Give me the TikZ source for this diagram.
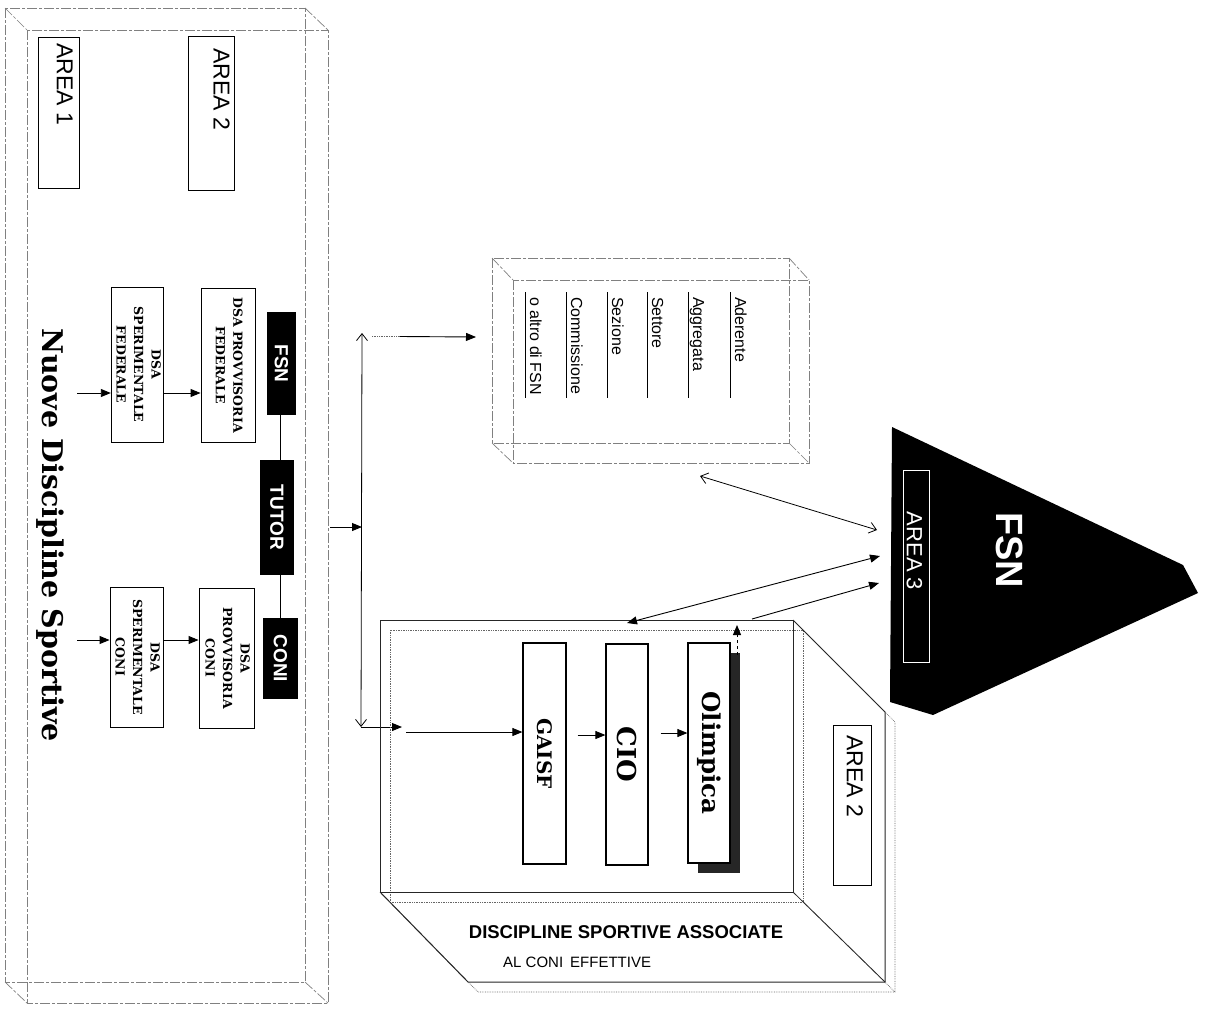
\documentclass[tikz,border=0pt]{standalone}
\usepackage{fontspec}
\usepackage{graphicx}
\setmainfont{DejaVu Serif}
\newfontfamily\sansf{Liberation Sans}
\usetikzlibrary{arrows.meta,calc}
\newcommand{\rstack}[1]{\rotatebox[origin=c]{-90}{\begin{tabular}{@{}c@{}}#1\end{tabular}}}
\newcommand{\rtext}[1]{\rotatebox[origin=c]{-90}{#1}}
\tikzset{
  blk/.style={fill=black, text=white, inner sep=0pt, font=\sansf\bfseries\fontsize{19}{22}\selectfont},
  wbox/.style={draw=black, line width=0.9pt, fill=white, inner sep=0pt},
  dsabox/.style={wbox, font=\bfseries\fontsize{12.5}{17.5}\selectfont},
  bigbox/.style={wbox, line width=1.2pt, font=\bfseries},
  areatxt/.style={inner sep=0pt, font=\sansf\fontsize{23}{26}\selectfont},
  arr/.style={-{Triangle[length=10pt,width=8pt]}, line width=0.9pt},
  darr/.style={{Triangle[length=10pt,width=8pt]}-{Triangle[length=10pt,width=8pt]}, line width=0.9pt},
  oarr/.style={{Straight Barb[length=7pt,width=11pt]}-{Straight Barb[length=7pt,width=11pt]}, line width=0.8pt},
  faint/.style={draw=black!50, line width=0.7pt, dash pattern=on 10pt off 2pt on 3pt off 2pt},
  dotl/.style={draw=black!60, line width=0.7pt, densely dotted},
  solidl/.style={draw=black!85, line width=1pt},
  item/.style={rotate=-90, anchor=base west, inner sep=0pt, font=\sansf\fontsize{16}{18}\selectfont},
}
\begin{document}
\begin{tikzpicture}[x=1pt,y=-1pt]
\fill[white] (0,0) rectangle (1215,1012);
\useasboundingbox (0,0) rectangle (1215,1012);

% ---------- left 3D box: Nuove Discipline Sportive ----------
\draw[faint] (5,8) rectangle (305,982);
\draw[faint] (27,30) rectangle (328,1003);
\draw[faint] (5,8) -- (27,30);
\draw[faint] (305,8) -- (328,30);
\draw[faint] (5,982) -- (27,1003);
\draw[faint] (305,982) -- (328,1003);

\node[wbox, minimum width=41pt, minimum height=151pt] (area1) at (58.5,112.5) {};
\node[areatxt, anchor=north east] (area1t) at (73,43) {\rtext{AREA 1}};
\node[wbox, minimum width=46pt, minimum height=154pt] (area2l) at (211,113) {};
\node[areatxt, anchor=north east] (area2lt) at (230,48) {\rtext{AREA 2}};

\node[dsabox, minimum width=51pt, minimum height=155pt] (dsfed) at (137.5,364.5) {\rstack{DSA\\SPERIMENTALE\\FEDERALE}};
\node[dsabox, minimum width=54pt, minimum height=154pt] (dpfed) at (228,365) {\rstack{DSA PROVVISORIA\\FEDERALE}};
\node[dsabox, minimum width=53pt, minimum height=140pt] (dscon) at (136.5,657) {\rstack{DSA\\SPERIMENTALE\\CONI}};
\node[dsabox, minimum width=55pt, minimum height=140pt] (dpcon) at (226.5,658) {\rstack{DSA\\PROVVISORIA\\CONI}};

\node[blk, minimum width=29pt, minimum height=103pt] (fsnb) at (281.5,363.5) {\rtext{FSN}};
\node[blk, minimum width=34pt, minimum height=115pt] (tutor) at (277,517.5) {\rtext{TUTOR}};
\node[blk, minimum width=35pt, minimum height=81pt] (coni) at (280.5,658.5) {\rtext{CONI}};
\draw[line width=1pt] (fsnb.south -| 280,0) -- (tutor.north -| 280,0);
\draw[line width=1pt] (tutor.south -| 280,0) -- (coni.north -| 280,0);

\coordinate (infed) at (77,393);
\coordinate (incon) at (77,640);
\draw[arr] (infed) -- (infed -| dsfed.west);
\draw[arr] (infed -| dsfed.east) -- (infed -| dpfed.west);
\draw[arr] (incon) -- (incon -| dscon.west);
\draw[arr] (incon -| dscon.east) -- (incon -| dpcon.west);

\node[inner sep=0pt, font=\bfseries\fontsize{28.5}{32}\selectfont] (title) at (50,535) {\rtext{Nuove Discipline Sportive}};

% ---------- bus ----------
\coordinate (leftout) at (330,527);
\coordinate (busin) at (362,527);
\coordinate (bustop) at (362,333);
\coordinate (busbot) at (361,727);
\draw[arr] (leftout) -- (busin);
\draw[oarr] (bustop) -- (busbot);
\coordinate (topstart) at (372,336);
\coordinate (topend) at (476,337);
\draw[dotl] (topstart) -- (400,336);
\draw[arr] (400,336.5) -- (topend);
\coordinate (botend) at (402,727);
\draw[arr] (busbot) -- (botend);

% ---------- Aderente box ----------
\draw[faint] (492,258) rectangle (789,443);
\draw[faint] (513,280) rectangle (809,463);
\draw[faint] (492,258) -- (513,280);
\draw[faint] (789,258) -- (809,280);
\draw[faint] (492,443) -- (513,463);
\draw[faint] (789,443) -- (809,463);
\foreach \x/\t/\n in {730/Aderente/i1, 688/Aggregata/i2, 647/Settore/i3, 607/Sezione/i4, 566/Commissione/i5, 525/o altro di FSN/i6}{
  \draw[line width=1pt] (\x,292) -- (\x,398);
  \node[item] (\n) at (\x+5,297) {\t};
}

% ---------- DSA 3D box ----------
\begin{scope}[dotl]
  \draw (390,630) rectangle (803,902);
  \draw (803,630) -- (895,722) -- (895,992) -- (478,992) -- (390,902);
  \draw (803,902) -- (895,992);
\end{scope}
\draw[solidl] (380,620) rectangle (793,892);
\draw[solidl] (793,620) -- (885,712) -- (885,982) -- (468,982) -- (380,892);
\draw[solidl, line width=0.8pt] (793,892) -- (885,982);
\node[inner sep=0pt, font=\sansf\bfseries\fontsize{18.5}{20}\selectfont] (dsat1) at (626,932) {DISCIPLINE SPORTIVE ASSOCIATE};
\node[inner sep=0pt, anchor=west, font=\sansf\fontsize{15}{17}\selectfont] (dsat2) at (503,962) {AL CONI\hspace{7pt}EFFETTIVE};

\node[bigbox, minimum width=43pt, minimum height=221pt, font=\bfseries\fontsize{20}{22}\selectfont] (gaisf) at (544.5,753.5) {\rtext{GAISF}};
\node[bigbox, minimum width=42pt, minimum height=221pt, font=\bfseries\fontsize{26}{28}\selectfont] (cio) at (627,754.5) {\rtext{CIO}};
\fill[black!85] (698,653) rectangle (740,873);
\node[bigbox, minimum width=42pt, minimum height=220pt, font=\bfseries\fontsize{24.5}{27}\selectfont] (olim) at (709,753) {\rtext{Olimpica}};

\coordinate (dsain) at (406,732);
\draw[arr] (dsain) -- (dsain -| gaisf.west);
\draw[arr] ([xshift=11pt]gaisf.east |- 0,735) -- (cio.west |- 0,735);
\draw[arr] ([xshift=12pt]cio.east |- 0,733) -- (olim.west |- 0,733);
\coordinate (olimup) at (737,625);
\draw[arr, dashed] (737,655) -- (olimup);

\node[wbox, minimum width=38pt, minimum height=160pt] (area2r) at (852,805) {};
\node[areatxt, anchor=north east] (area2rt) at (863,735) {\rtext{AREA 2}};

% ---------- FSN triangle ----------
\fill[black] (892,427) -- (1183,565) -- (1198,593) -- (933,715) -- (890,702) -- cycle;
\node[draw=white, line width=0.7pt, minimum width=26pt, minimum height=192pt, inner sep=0pt] (area3) at (916,566) {};
\node[areatxt, text=white, font=\sansf\fontsize{22}{24}\selectfont] (area3t) at (914.5,551) {\rtext{AREA 3}};
\node[inner sep=0pt, text=white, font=\sansf\bfseries\fontsize{38}{40}\selectfont] (fsnbig) at (1010,550) {\rtext{FSN}};

\coordinate (t1) at (877,530);
\coordinate (t2) at (880,556);
\coordinate (t3) at (879,583);
\coordinate (aderbot) at (700,476);
\coordinate (dsatop) at (627,623);
\coordinate (dsatop2) at (752,619);
\draw[oarr] (aderbot) -- (t1);
\draw[darr] (dsatop) -- (t2);
\draw[arr] (dsatop2) -- (t3);
\end{tikzpicture}
\end{document}
